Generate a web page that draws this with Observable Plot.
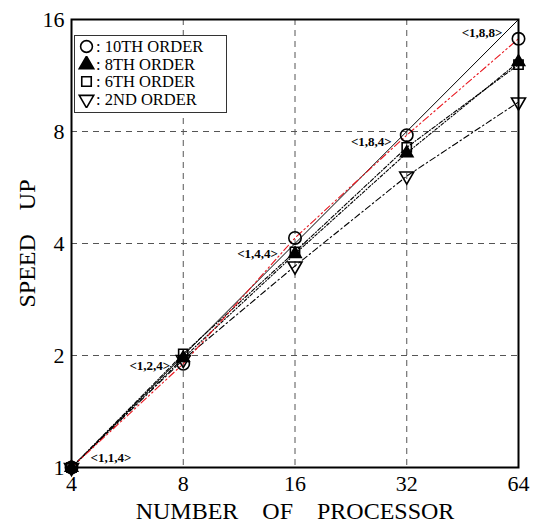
<!DOCTYPE html>
<html>
<head>
<meta charset="utf-8">
<script src="https://cdn.jsdelivr.net/npm/d3@7"></script>
<script src="https://cdn.jsdelivr.net/npm/@observablehq/plot@0.6"></script>
<style>
  html, body { margin: 0; padding: 0; background: #fff; }
  #wrap { position: relative; width: 538px; height: 525px; font-family: "Liberation Serif", "DejaVu Serif", serif; }
  #chart svg text { font-family: "Liberation Serif", "DejaVu Serif", serif !important; }
  #legend { position: absolute; left: 74px; top: 35px; width: 153px; height: 78px; border: 1px solid #333; background: #fff;
    font-family: "Liberation Serif", "DejaVu Serif", serif; font-size: 16.5px; line-height: 17.6px; padding: 2px 0 0 3px; box-sizing: border-box; }
  #legend .row { white-space: nowrap; display: flex; align-items: center; height: 17.6px; }
  #legend svg { margin-right: 1px; }
</style>
</head>
<body>
<div id="wrap"><div id="chart"></div><div id="legend"></div></div>
<script>
const processors = [4, 8, 16, 32, 64];
const seriesNames = ["10TH ORDER", "8TH ORDER", "6TH ORDER", "2ND ORDER"];
const speed10 = [1, 1.90, 4.14, 7.82, 14.2];
const speed8 = [1, 1.97, 3.75, 7.0, 12.3];
const speed6 = [1, 2.02, 3.80, 7.25, 12.1];
const speed2 = [1, 1.95, 3.48, 6.07, 9.6];
const idealX = [4, 64];
const idealY = [1, 16];
const configLabels = ["<1,1,4>", "<1,2,4>", "<1,4,4>", "<1,8,4>", "<1,8,8>"];
const xTicks = [4, 8, 16, 32, 64];
const yTicks = [1, 2, 4, 8, 16];

const styles = {
  "10TH ORDER": {stroke: "#e8141c", dash: "7,3,1.5,3,1.5,3", symbol: "circle", fill: "none", rotate: 0, r: 6.2},
  "8TH ORDER": {stroke: "#000", dash: "3,2,1,2", symbol: "triangle", fill: "#000", rotate: 0, r: 4.6},
  "6TH ORDER": {stroke: "#000", dash: "4,2,1,2", symbol: "square", fill: "none", rotate: 0, r: 5.2},
  "2ND ORDER": {stroke: "#000", dash: "6,3,1.5,3", symbol: "triangle", fill: "none", rotate: 180, r: 5.2}
};
const allSpeeds = [speed10, speed8, speed6, speed2];
const rows = [];
seriesNames.forEach((s, i) => processors.forEach((p, j) => rows.push({series: s, p, v: allSpeeds[i][j]})));
const ideal = idealX.map((x, i) => ({p: x, v: idealY[i]}));
const labelRows = processors.map((p, i) => ({p, v: p / 4, label: configLabels[i]}));
const labelOffsets = [
  {dx: 19, dy: -10, anchor: "start"},
  {dx: -13, dy: 10, anchor: "end"},
  {dx: -17, dy: 10, anchor: "end"},
  {dx: -15, dy: 10, anchor: "end"},
  {dx: -16, dy: 13, anchor: "end"}
];

const marks = [
  Plot.ruleX(xTicks.slice(1, -1), {stroke: "#555", strokeDasharray: "6,5", strokeWidth: 1}),
  Plot.ruleY(yTicks.slice(1, -1), {stroke: "#555", strokeDasharray: "6,5", strokeWidth: 1}),
  Plot.line(ideal, {x: "p", y: "v", stroke: "#000", strokeWidth: 1})
];
seriesNames.slice().reverse().forEach(s => {
  const st = styles[s];
  marks.push(Plot.line(rows.filter(d => d.series === s), {x: "p", y: "v", stroke: st.stroke, strokeWidth: 1.1, strokeDasharray: st.dash}));
});
seriesNames.slice().reverse().forEach(s => {
  const st = styles[s];
  marks.push(Plot.dot(rows.filter(d => d.series === s), {x: "p", y: "v", symbol: st.symbol, r: st.r,
    fill: st.fill === "none" ? "white" : st.fill, fillOpacity: st.fill === "none" ? 0 : 1, stroke: "#000", strokeWidth: 1.6, rotate: st.rotate}));
});
labelRows.forEach((d, i) => {
  const o = labelOffsets[i];
  marks.push(Plot.text([d], {x: "p", y: "v", text: "label", dx: o.dx, dy: o.dy, textAnchor: o.anchor,
    fontSize: 13, fontWeight: "bold", fill: "#000"}));
});
marks.push(Plot.frame({stroke: "#000", strokeWidth: 2}));

const chart = Plot.plot({
  width: 538,
  height: 525,
  marginLeft: 71,
  marginRight: 20,
  marginTop: 19,
  marginBottom: 58,
  style: {fontSize: "22px", background: "white"},
  x: {type: "log", base: 2, domain: [4, 64], ticks: xTicks, tickFormat: d => String(d), tickSize: 0, tickPadding: 8,
      label: "NUMBER    OF    PROCESSOR", labelArrow: "none", labelAnchor: "center", labelOffset: 51},
  y: {type: "log", base: 2, domain: [1, 16], ticks: yTicks, tickFormat: d => String(d), tickSize: 0, tickPadding: 7,
      label: "SPEED    UP", labelArrow: "none", labelAnchor: "center", labelOffset: 54},
  marks
});
chart.querySelectorAll("text").forEach(t => {
  t.setAttribute("xml:space", "preserve");
  t.style.whiteSpace = "pre";
  t.style.fontFamily = "'Liberation Serif', 'DejaVu Serif', serif";
  if (t.textContent.includes("→") || t.textContent.includes("↑")) {
    t.textContent = t.textContent.replace(/\s*[→↑]\s*/g, "");
  }
});
chart.querySelectorAll("g[aria-label='x-axis label'] text, g[aria-label='y-axis label'] text").forEach(t => t.style.fontSize = "24px");
document.getElementById("chart").appendChild(chart);

// legend
const legend = document.getElementById("legend");
seriesNames.forEach(s => {
  const st = styles[s];
  const row = document.createElement("div");
  row.className = "row";
  const ns = "http://www.w3.org/2000/svg";
  const svg = document.createElementNS(ns, "svg");
  svg.setAttribute("width", 17); svg.setAttribute("height", 17);
  const g = document.createElementNS(ns, "g");
  g.setAttribute("transform", "translate(8.5,8.5)" + (st.rotate ? " rotate(180)" : ""));
  const sym = (st.symbol === "circle" ? d3.symbolCircle : st.symbol === "square" ? d3.symbolSquare : d3.symbolTriangle);
  const path = document.createElementNS(ns, "path");
  path.setAttribute("d", d3.symbol(sym, st.symbol === "circle" ? 110 : 90)());
  path.setAttribute("fill", st.fill === "none" ? "none" : st.fill);
  path.setAttribute("stroke", "#000");
  path.setAttribute("stroke-width", 1.6);
  g.appendChild(path); svg.appendChild(g); row.appendChild(svg);
  const span = document.createElement("span");
  span.textContent = ": " + s;
  row.appendChild(span);
  legend.appendChild(row);
});
</script>
</body>
</html>
